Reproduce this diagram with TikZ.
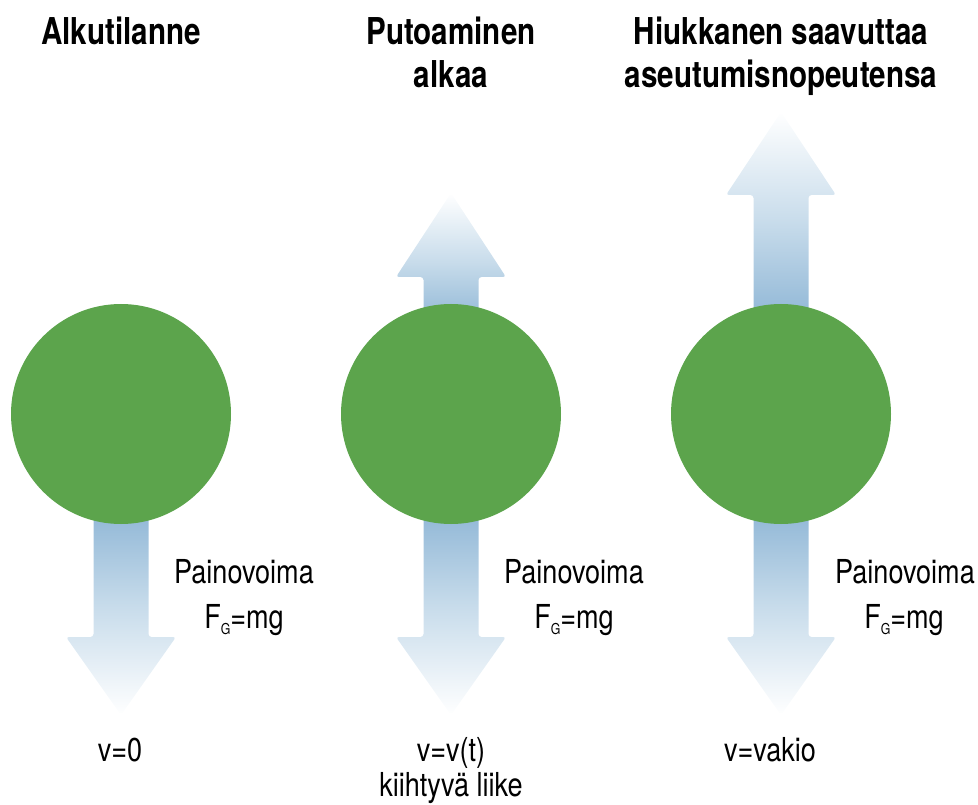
\documentclass[tikz,border=0pt]{standalone}
\usepackage{fontspec}
\newfontfamily\titlefont[FakeStretch=0.8]{TeX Gyre Heros}
\newfontfamily\bodyfont[FakeStretch=0.82]{TeX Gyre Heros}
\definecolor{ballgreen}{RGB}{92,164,76}
\definecolor{arrowblue}{RGB}{138,179,212}
\definecolor{arrowmid}{RGB}{200,220,235}
\tikzset{
  ball/.style={circle, fill=ballgreen, minimum size=220pt, inner sep=0pt},
  downarrow/.style={rounded corners=3pt, top color=arrowblue, bottom color=white, middle color=arrowmid},
  uparrow/.style={rounded corners=3pt, bottom color=arrowblue, top color=white, middle color=arrowmid},
  titletext/.style={font=\titlefont\bfseries\fontsize{37}{43}\selectfont, align=center, anchor=base, inner sep=0pt},
  bodytext/.style={font=\bodyfont\fontsize{33}{35}\selectfont, align=center, anchor=base, inner sep=0pt}
}
\newcommand{\FGmg}{F\raisebox{-6pt}{\fontsize{15}{15}\selectfont G}=mg}
\begin{document}
\begin{tikzpicture}[x=1pt,y=-1pt]
\useasboundingbox (0,0) rectangle (978,805);
% down arrows
\foreach \cx in {121,451,781}{
  \shade[downarrow] (\cx-27.5,500) -- (\cx-27.5,637) -- (\cx-55,637) -- (\cx,715) -- (\cx+55,637) -- (\cx+27.5,637) -- (\cx+27.5,500) -- cycle;
}
% up arrows
\shade[uparrow] (451-27.5,330) -- (451-27.5,277) -- (451-55,277) -- (451,193) -- (451+55,277) -- (451+27.5,277) -- (451+27.5,330) -- cycle;
\shade[uparrow] (781-27.5,330) -- (781-27.5,195) -- (781-55,195) -- (781,112) -- (781+55,195) -- (781+27.5,195) -- (781+27.5,330) -- cycle;
% balls
\node[ball] (b1) at (121,414) {};
\node[ball] (b2) at (451,414) {};
\node[ball] (b3) at (781,414) {};
% titles
\node[titletext] (t1) at (121,45) {Alkutilanne};
\node[titletext] (t2) at (451,88) {Putoaminen\\alkaa};
\node[titletext] (t3) at (781,88) {Hiukkanen saavuttaa\\aseutumisnopeutensa};
% force labels
\node[bodytext] (p1) at (244,583) {Painovoima};
\node[bodytext] (f1) at (244,628) {\FGmg};
\node[bodytext] (p2) at (574,583) {Painovoima};
\node[bodytext] (f2) at (574,628) {\FGmg};
\node[bodytext] (p3) at (905,583) {Painovoima};
\node[bodytext] (f3) at (904,628) {\FGmg};
% velocity labels
\node[bodytext] (v1) at (120,761) {v=0};
\node[bodytext] (v2) at (451,761) {v=v(t)};
\node[bodytext] (k2) at (451,796) {kiihtyvä liike};
\node[bodytext] (v3) at (770,761) {v=vakio};
\end{tikzpicture}
\end{document}
